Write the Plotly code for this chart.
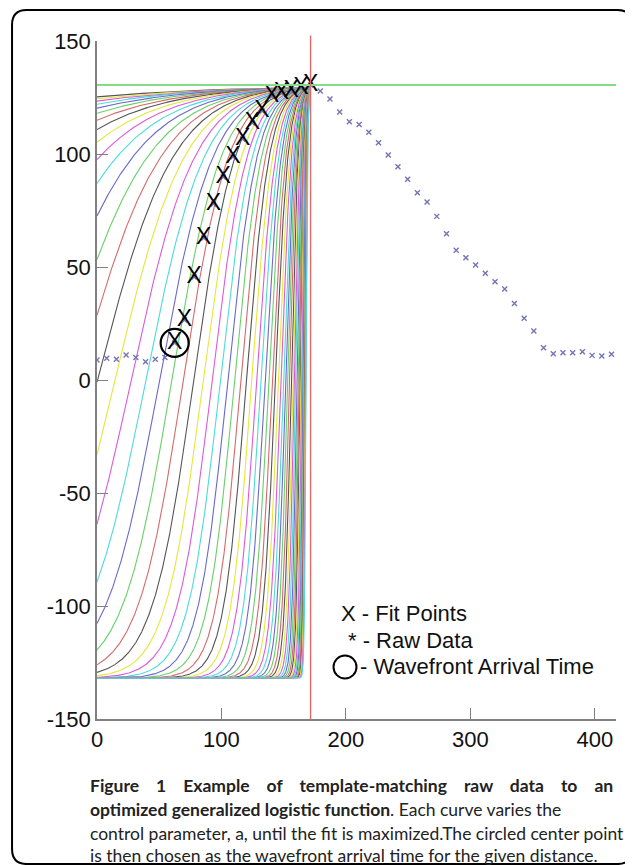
import numpy as np
import plotly.graph_objects as go

# ---------------- data ----------------
raw_t = [0.0, 7.8, 15.6, 23.4, 31.2, 39.0, 46.8, 54.6, 62.4, 70.2,
         78.0, 85.8, 93.6, 101.4, 109.2, 117.0, 124.8, 132.6, 140.4, 148.2,
         156.0, 163.8, 171.6, 179.4, 187.2, 195.0, 202.8, 210.6, 218.4, 226.2,
         234.0, 241.8, 249.6, 257.4, 265.2, 273.0, 280.8, 288.6, 296.4, 304.2,
         312.0, 319.8, 327.6, 335.4, 343.2, 351.0, 358.8, 366.6, 374.4, 382.2,
         390.0, 397.8, 405.6, 413.4]
raw_y = [8.8, 9.6, 9.2, 11.1, 10.0, 8.1, 9.2, 10.0, 16.4, 26.5,
         45.6, 62.8, 77.9, 89.8, 98.7, 106.6, 113.7, 119.0, 125.7, 127.0,
         127.9, 129.2, 130.5, 127.9, 124.3, 118.6, 114.3, 113.1, 109.6, 105.0,
         99.6, 94.4, 88.8, 82.9, 78.8, 72.4, 64.7, 57.4, 54.1, 50.9,
         47.2, 43.5, 40.3, 33.9, 27.3, 21.7, 14.3, 11.6, 12.1, 12.1,
         12.5, 10.9, 10.6, 11.4]
fit_idx = [8, 9, 10, 11, 12, 13, 14, 15, 16, 17, 18, 19, 20, 21, 22]
arrival_idx = 8

# template family (generalized logistic): control parameter a for each curve
control_a = [0.00977, 0.01065, 0.01160, 0.01264, 0.01377, 0.01500, 0.01635, 0.01781,
             0.01941, 0.02115, 0.02304, 0.02511, 0.02736, 0.02981, 0.03248, 0.03539,
             0.03856, 0.04202, 0.04578, 0.04988, 0.05436, 0.05922, 0.06453, 0.07031,
             0.07661, 0.08348, 0.09096, 0.09911, 0.10799, 0.11766, 0.12821, 0.13969,
             0.15221, 0.16585, 0.18071, 0.19690, 0.21454, 0.23376, 0.25471, 0.27753,
             0.30239, 0.32949, 0.35901, 0.39118, 0.42624, 0.46442, 0.50604, 0.55137,
             0.60077, 0.65460, 0.71325, 0.77716, 0.84679, 0.92267, 1.00533, 1.09541,
             1.19356, 1.30050, 1.41703, 1.54399]
lower_asym = -132.0
upper_asym = 130.5
shift = 5.57

x_ticks = [0, 100, 200, 300, 400]
x_tick_text = ['0', '100', '200', '300', '400']
y_ticks = [-150, -100, -50, 0, 50, 100, 150]
y_tick_text = ['-150', '-100', '-50', '0', '50', '100', '150']
x_range = [0, 417]
y_range = [-150, 150]

curve_colors = ['#555555', '#e6e63c', '#dc5adc', '#4ddada', '#6a6acc', '#68d068', '#d66a6a']

legend_lines = ["X - Fit Points", "* - Raw Data", "- Wavefront Arrival Time"]

# ---------------- figure ----------------
fig = go.Figure()

t_end = raw_t[fit_idx[-1]]
xs = np.linspace(0, t_end, 661)
for j, a in enumerate(control_a):
    ys = lower_asym + (upper_asym - lower_asym) / (1 + np.exp(-(a * (xs - t_end) + shift)))
    fig.add_trace(go.Scatter(x=xs, y=ys, mode='lines',
                             line=dict(color=curve_colors[j % 7], width=1.1),
                             hoverinfo='skip'))

# raw data
fig.add_trace(go.Scatter(x=raw_t, y=raw_y, mode='markers',
                         marker=dict(symbol='x-thin', size=5,
                                     line=dict(color='#7474b4', width=1.4)),
                         hoverinfo='skip'))

# fit points drawn as "X"
fig.add_trace(go.Scatter(x=[raw_t[i] for i in fit_idx], y=[raw_y[i] for i in fit_idx],
                         mode='text', text=['X'] * len(fit_idx), textposition='middle center',
                         textfont=dict(family='Liberation Sans, Arial', size=23, color='black'),
                         hoverinfo='skip'))

# arrival circle
fig.add_trace(go.Scatter(x=[raw_t[arrival_idx]], y=[raw_y[arrival_idx]], mode='markers',
                         marker=dict(symbol='circle-open', size=28, color='black',
                                     line=dict(color='black', width=2.2)),
                         hoverinfo='skip'))

shapes = [
    dict(type='line', xref='paper', yref='y', x0=0, x1=1,
         y0=max(raw_y), y1=max(raw_y), line=dict(color='#86dc86', width=2)),
    dict(type='line', xref='x', yref='paper', x0=t_end, x1=t_end,
         y0=0, y1=1.008, line=dict(color='#e06a6a', width=1.4)),
    # legend circle
    dict(type='circle', xref='paper', yref='paper',
         x0=0.4557, x1=0.5, y0=0.0597, y1=0.0937, line=dict(color='black', width=2)),
]

# outer rounded frame
xl, xr, yt, yb = -0.1637, 1.0308, 1.0457, -0.2139
dx, dy = 0.028, 0.022
path = (f"M {xl},{yt-dy} Q {xl},{yt} {xl+dx},{yt} L {xr-dx},{yt} Q {xr},{yt} {xr},{yt-dy} "
        f"L {xr},{yb+dy} Q {xr},{yb} {xr-dx},{yb} L {xl+dx},{yb} Q {xl},{yb} {xl},{yb+dy} Z")
shapes.append(dict(type='path', xref='paper', yref='paper', path=path,
                   line=dict(color='black', width=2)))

annots = []
leg_font = dict(family='Liberation Sans, Arial', size=22, color='#111')
annots.append(dict(xref='paper', yref='paper', x=0.466, y=0.155, text=legend_lines[0],
                   showarrow=False, xanchor='left', yanchor='middle', font=leg_font))
annots.append(dict(xref='paper', yref='paper', x=0.479, y=0.1165, text=legend_lines[1],
                   showarrow=False, xanchor='left', yanchor='middle', font=leg_font))
annots.append(dict(xref='paper', yref='paper', x=0.503, y=0.0767, text=legend_lines[2],
                   showarrow=False, xanchor='left', yanchor='middle', font=leg_font))

nb = '\u00a0'
bold_words = "Figure 1 Example of template-matching raw data to an".split(' ')
line1 = '<b>' + (nb * 4).join(bold_words) + '</b>'
cap_lines = [
    line1,
    "<b>optimized generalized logistic function</b>. Each curve varies the",
    "control parameter, a, until the fit is maximized.The circled center point",
    "is then chosen as the wavefront arrival time for the given distance.",
]
cap_y = [-0.0988, -0.1342, -0.1696, -0.2012]
for txt, yy in zip(cap_lines, cap_y):
    annots.append(dict(xref='paper', yref='paper', x=-0.0173, y=yy, text=txt,
                       showarrow=False, xanchor='left', yanchor='middle',
                       font=dict(family='Lato, Open Sans', size=17.5, color='#222')))

axis_common = dict(showline=True, linecolor='#808080', linewidth=1.5,
                   ticks='inside', ticklen=11, tickwidth=1.3, tickcolor='#808080',
                   showgrid=False, zeroline=False,
                   tickfont=dict(family='Liberation Sans, Arial', size=22, color='#111'))

fig.update_layout(
    width=625, height=857,
    margin=dict(l=89, r=17, t=33, b=146),
    paper_bgcolor='white', plot_bgcolor='white',
    showlegend=False,
    xaxis=dict(range=x_range, tickvals=x_ticks, ticktext=x_tick_text, **axis_common),
    yaxis=dict(range=y_range, tickvals=y_ticks, ticktext=y_tick_text, **axis_common),
    shapes=shapes, annotations=annots,
)

fig.write_html("out.html")
